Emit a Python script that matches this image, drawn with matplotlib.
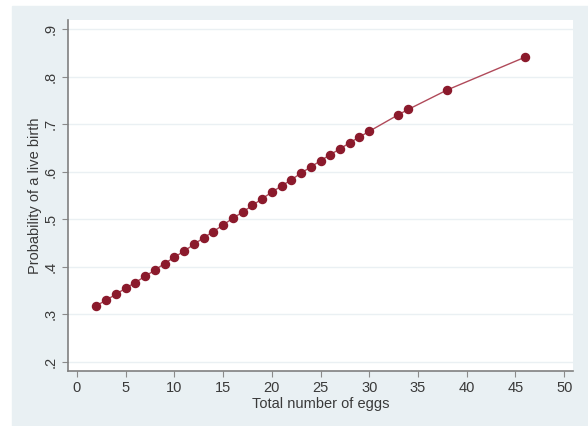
import matplotlib
matplotlib.use("Agg")
from matplotlib import pyplot as plt
from matplotlib.patches import Rectangle
from matplotlib.ticker import FuncFormatter

# total eggs vs predicted probability of a live birth
eggs = [2, 3, 4, 5, 6, 7, 8, 9, 10, 11, 12, 13, 14, 15, 16, 17, 18, 19, 20,
        21, 22, 23, 24, 25, 26, 27, 28, 29, 30, 33, 34, 38, 46]
prob = [0.318, 0.330, 0.342, 0.355, 0.367, 0.380, 0.393, 0.407, 0.420, 0.433,
        0.447, 0.461, 0.474, 0.488, 0.502, 0.515, 0.529, 0.543, 0.557, 0.570,
        0.583, 0.597, 0.610, 0.623, 0.636, 0.648, 0.661, 0.673, 0.685,
        0.720, 0.731, 0.772, 0.841]
x_ticks = [0, 5, 10, 15, 20, 25, 30, 35, 40, 45, 50]
y_ticks = [0.2, 0.3, 0.4, 0.5, 0.6, 0.7, 0.8, 0.9]

plt.rcParams['font.family'] = ['Liberation Sans', 'DejaVu Sans']

W, H = 588, 426
fig = plt.figure(figsize=(W / 100, H / 100), dpi=100, facecolor='white')
fig.patches.append(Rectangle((12 / W, 0), 1 - 12 / W, 1 - 6 / H,
                             transform=fig.transFigure, color='#e9f0f3', zorder=-10))

ax = fig.add_axes([68 / W, 55 / H, 505 / W, 351 / H])
ax.set_zorder(1)
ax.set_facecolor('white')

for y in y_ticks:
    ax.axhline(y, color='#eaf0f3', lw=1, zorder=0)

ax.plot(eggs, prob, color='#b04a5a', lw=1, zorder=2)
ax.plot(eggs, prob, 'o', color='#8b1a2c', ms=5.8, zorder=3)

ax.set_xlim(-0.9, 50.9)
ax.set_ylim(0.181, 0.919)
ax.set_xticks(x_ticks)
ax.set_yticks(y_ticks)
ax.yaxis.set_major_formatter(FuncFormatter(lambda v, p: ("%.1f" % v).lstrip('0')))

for s in ['top', 'right']:
    ax.spines[s].set_visible(False)
for s in ['left', 'bottom']:
    ax.spines[s].set_color('#808080')
    ax.spines[s].set_linewidth(1.2)

ax.tick_params(direction='out', length=4, color='#8a8a8a', labelsize=10.5,
               labelcolor='#3a3a3a')
plt.setp(ax.get_yticklabels(), rotation=90, va='center')

ax.set_xlabel("Total number of eggs", fontsize=10.5, color='#3a3a3a', labelpad=1)
ax.set_ylabel("Probability of a live birth", fontsize=10.5, color='#3a3a3a', labelpad=1)

plt.savefig("out.png", dpi=100)
plt.close()
